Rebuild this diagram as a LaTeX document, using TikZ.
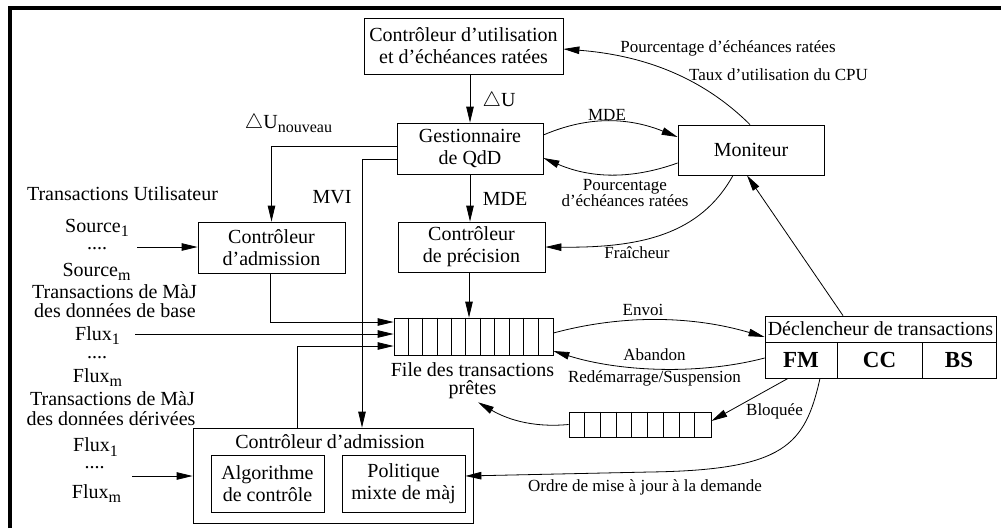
\documentclass[tikz,border=0pt]{standalone}
\usepackage{fontspec}
\setmainfont{Liberation Serif}
\usetikzlibrary{arrows.meta,calc}
\newcommand{\subx}[1]{\raisebox{-4.5pt}{\fontsize{16}{16}\selectfont #1}}
\begin{document}
\begin{tikzpicture}[x=1pt,y=-1pt,
  big/.style={font=\fontsize{20}{22}\selectfont},
  small/.style={font=\fontsize{17}{15.5}\selectfont},
  box/.style={draw, line width=0.8pt, inner sep=0pt, align=center, big},
  lb/.style={inner sep=0pt, anchor=base},
  arr/.style={line width=0.8pt, -{Triangle[length=16pt,width=7.5pt]}},
  boldf/.style={font=\fontsize{23}{23}\selectfont\bfseries}]
\useasboundingbox (0,0) rectangle (1001,528);
% frame
\draw[line width=3.5pt, line join=miter] (10,528) -- (10,8) -- (1001,8);

% boxes
\node[box, minimum width=199pt, minimum height=56pt] (cu) at (463.5,46) {Contrôleur d’utilisation\\et d’échéances ratées};
\node[box, minimum width=146pt, minimum height=51pt] (gq) at (470,148.5) {Gestionnaire\\de QdD};
\node[box, minimum width=146pt, minimum height=50pt] (mon) at (751,150) {Moniteur};
\node[box, minimum width=147pt, minimum height=51pt] (adm) at (271.5,247.5) {Contrôleur\\d’admission};
\node[box, minimum width=147pt, minimum height=50pt] (prec) at (471.5,247) {Contrôleur\\de précision};
\node[box, minimum width=159pt, minimum height=37pt] (q1) at (473.5,336.5) {};
\foreach \i in {1,...,10} \draw[line width=0.8pt] ([xshift=\i*14.4545pt]q1.north west) -- ([xshift=\i*14.4545pt]q1.south west);
\node[box, minimum width=142pt, minimum height=25pt] (q2) at (640,424.5) {};
\foreach \i in {1,...,8} \draw[line width=0.8pt] ([xshift=\i*15.7778pt]q2.north west) -- ([xshift=\i*15.7778pt]q2.south west);
\node[box, minimum width=280pt, minimum height=95pt] (adm2) at (333,475.5) {};
\node[lb, big] (adm2t) at (330,448.3) {Contrôleur d’admission};
\node[box, minimum width=113pt, minimum height=57pt] (alg) at (267.5,483.5) {Algorithme\\de contrôle};
\node[box, minimum width=123pt, minimum height=57pt] (pol) at (403.5,483.5) {Politique\\mixte de màj};
\node[box, minimum width=231pt, minimum height=26pt] (dt) at (880.5,329) {Déclencheur de transactions};
\node[box, boldf, minimum width=72pt, minimum height=36pt] (fm) at (801,360) {FM};
\node[box, boldf, minimum width=85pt, minimum height=36pt] (cc) at (879.5,360) {CC};
\node[box, boldf, minimum width=74pt, minimum height=36pt] (bs) at (959,360) {BS};
\node[big, inner sep=0pt, align=center, font=\fontsize{20}{18}\selectfont] (ft) at (472.5,380.5) {File des transactions\\prêtes};

% left column
\node[lb,big] (t1) at (122.5,200.7) {Transactions Utilisateur};
\node[lb,big] (s1) at (97,232) {Source\subx{1}};
\node[lb,big] (d1) at (97,249.5) {....};
\node[lb,big] (sm) at (96.5,276) {Source\subx{m}};
\node[lb,big] (t2) at (114.5,298) {Transactions de MàJ};
\node[lb,big] (t2b) at (115,317.7) {des données de base};
\node[lb,big] (fa1) at (97.5,340) {Flux\subx{1}};
\node[lb,big] (d2) at (97,358) {....};
\node[lb,big] (fam) at (97.5,382) {Flux\subx{m}};
\node[lb,big] (t3) at (112.5,405) {Transactions de MàJ};
\node[lb,big] (t3b) at (111,425) {des données dérivées};
\node[lb,big] (fb1) at (95.5,451.7) {Flux\subx{1}};
\node[lb,big] (d3) at (94.5,468) {....};
\node[lb,big] (fbm) at (96.5,498) {Flux\subx{m}};

% labels
\node[lb,small] (lp1) at (728,52.7) {Pourcentage d’échéances ratées};
\node[lb,small] (ltx) at (778.5,80) {Taux d’utilisation du CPU};
\node[lb,big] (ldu) at (499,106) {$\triangle$U};
\node[lb,big] (ldun) at (288.5,128) {$\triangle$U\subx{nouveau}};
\node[lb,big] (lmvi) at (332,203) {MVI};
\node[lb,big] (lmde) at (505,205) {MDE};
\node[lb,small] (lmde2) at (607,120) {MDE};
\node[small, inner sep=0pt, align=center] (lp2) at (625,193) {Pourcentage\\d’échéances ratées};
\node[lb,small] (lfr) at (637,258) {Fraîcheur};
\node[lb,small] (lenv) at (643,315) {Envoi};
\node[lb,small] (laba) at (654.5,360) {Abandon};
\node[lb,small] (lred) at (654.5,382.7) {Redémarrage/Suspension};
\node[lb,small] (lblo) at (774.5,415) {Bloquée};
\node[lb,small] (lord) at (645,491.7) {Ordre de mise à jour à la demande};

% connectors
\coordinate (src) at (137,247);
\coordinate (f1) at (135,334);
\coordinate (fl) at (132,476);
\draw[arr] (gq.north |- cu.south) -- (gq.north);
\draw[arr] ([yshift=2.5pt]gq.west) -| (adm.north);
\draw[arr] ([yshift=-10.5pt]gq.west) -| ([xshift=29pt]adm2.north);
\draw[arr] (gq.south) -- (gq.south |- prec.north);
\draw[arr] ([xshift=-2.5pt]prec.south) -- ([xshift=-2.5pt]prec.south |- q1.north);
\draw[arr] ([xshift=-1.5pt]adm.south) |- ([yshift=14.5pt]q1.west);
\draw[arr] (f1) -- (f1 -| q1.west);
\draw[arr] ([xshift=-36pt]adm2.north) |- ([yshift=-9.5pt]q1.west);
\draw[arr] (src) -- (src -| adm.west);
\draw[arr] (fl) -- (fl -| adm2.west);
\draw[arr] ([xshift=19pt]fm.south) .. controls (805,445) and (785,470) .. (650,472) -- ([yshift=7.5pt]pol.east);
\draw[arr] ([xshift=-1pt]mon.north) .. controls (700,75) and (640,55) .. ([yshift=-3pt]cu.east);
\draw[arr] ([yshift=13.5pt]gq.east) .. controls (590,115) and (630,118) .. ([yshift=13pt]mon.west);
\draw[arr] ([yshift=-13pt]mon.west) .. controls (630,180) and (590,178) .. ([yshift=-9.5pt]gq.east);
\draw[arr] ([xshift=-18pt]mon.south) .. controls (700,235) and (640,248) .. (prec.east);
\draw[arr] ([xshift=-37.5pt]dt.north) -- ([xshift=-4pt]mon.south);
\draw[arr] ([yshift=3.5pt]q1.east) .. controls (620,315) and (690,315) .. ([yshift=-8pt]dt.west);
\draw[arr] ([yshift=2pt]fm.west) .. controls (700,375) and (620,372) .. ([yshift=-14.5pt]q1.east);
\draw[arr] ([xshift=-13pt]fm.south) -- ([yshift=3.5pt]q2.east);
\draw[arr] (q2.west) .. controls (530,428) and (505,418) .. ([xshift=5.5pt,yshift=-3.5pt]ft.south);
\end{tikzpicture}
\end{document}
